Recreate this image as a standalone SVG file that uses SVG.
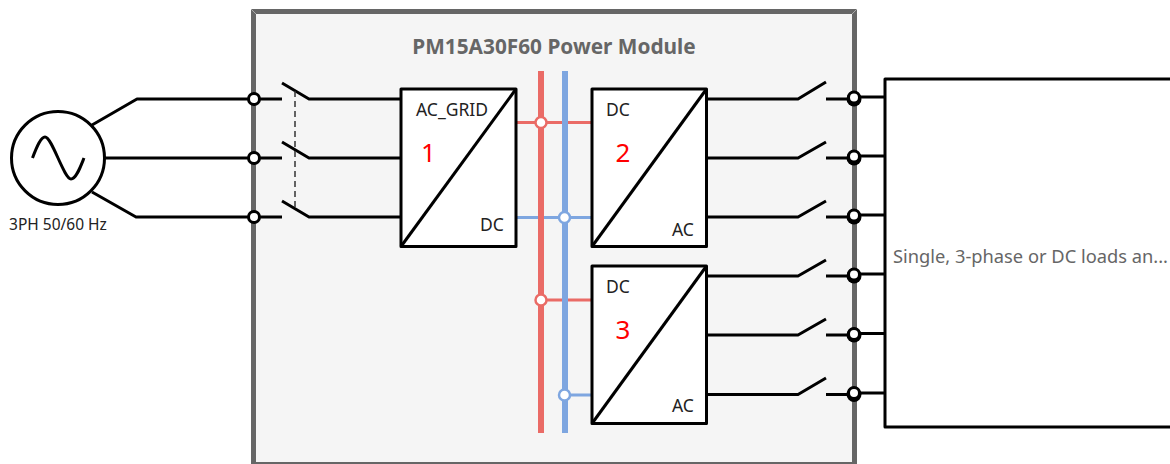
<svg xmlns="http://www.w3.org/2000/svg" width="1170" height="464" viewBox="0 0 1170 464">
<style>
text{font-family:"Noto Sans","Open Sans","DejaVu Sans",sans-serif}
.w{fill:none;stroke:#000;stroke-width:3;stroke-linejoin:round}
.d{font-size:17.500px;fill:#222}
.n{font-size:26px;fill:#f00;text-anchor:middle}
.box{fill:#fff;stroke:#000;stroke-width:3;stroke-linejoin:round}
.red{fill:none;stroke:#ea6b66}
.blue{fill:none;stroke:#7ea6e0}
.t{fill:#fff;stroke:#000;stroke-width:3}
.b{fill:#000}
.cr{fill:#fff;stroke:#ea6b66;stroke-width:2.500}
.cb{fill:#fff;stroke:#7ea6e0;stroke-width:2.500}
</style>
<rect width="1170" height="464" fill="#fff"/>
<g id="module">
<rect x="253.500" y="11.500" width="601" height="453" fill="#f5f5f5" stroke="#666" stroke-width="5"/>
<path d="M251 9L256 14M857 9L852 14" stroke="#aaa" stroke-width="1" fill="none"/>
<text x="554" y="54" text-anchor="middle" font-size="20.800" font-weight="700" fill="#666">PM15A30F60 Power Module</text>
</g>
<g id="connectors">
<path class="w" d="M92 125L137 99H254M105 158H254M92 192L136 217H254"/>
<path class="w" d="M254 99H282M254 158H282M254 217H282"/>
<path class="w" d="M282 83L309 99H401M282 142L309 158H401M282 201L309 217H401"/>
<path d="M295 91V207" fill="none" stroke="#333" stroke-width="1.500" stroke-dasharray="6 4"/>
<path class="w" d="M706 99H798L826 82M706 158H798L826 142M706 217H798L826 201M706 276H798L826 260M706 335H798L826 319M706 394.500H798L826 378"/>
<path class="w" d="M826 99H854M826 158H854M826 217H854M826 276H854M826 335H854M826 394.500H854"/>
<path class="w" d="M854 97H885M854 156H885M854 215H885M854 274H885M854 333.500H885M854 393H885"/>
<path class="blue" stroke-width="3" d="M516 217.500H592M565 395H592"/>
<path class="red" stroke-width="6" d="M541 71V433"/>
<path class="red" stroke-width="3" d="M516 122.500H592M541 300H592"/>
<path class="blue" stroke-width="6" d="M565 71V433"/>
<circle class="cr" cx="541" cy="122.500" r="5.500"/>
<circle class="cb" cx="564.500" cy="217.500" r="5.500"/>
<circle class="cr" cx="541" cy="300" r="5.500"/>
<circle class="cb" cx="564.500" cy="395" r="5.500"/>
</g>
<g id="terminals">
<circle class="t" cx="254" cy="99" r="5.500"/>
<circle class="t" cx="254" cy="158" r="5.500"/>
<circle class="t" cx="254" cy="217" r="5.500"/>
<circle class="b" cx="854" cy="99" r="7.500"/><circle class="t" cx="854" cy="97.500" r="5.500"/>
<circle class="b" cx="854" cy="158" r="7.500"/><circle class="t" cx="854" cy="156.500" r="5.500"/>
<circle class="b" cx="854" cy="217" r="7.500"/><circle class="t" cx="854" cy="215.500" r="5.500"/>
<circle class="b" cx="854" cy="276" r="7.500"/><circle class="t" cx="854" cy="274.500" r="5.500"/>
<circle class="b" cx="854" cy="335" r="7.500"/><circle class="t" cx="854" cy="334" r="5.500"/>
<circle class="b" cx="854" cy="394.500" r="7.500"/><circle class="t" cx="854" cy="393" r="5.500"/>
</g>
<g id="source">
<circle cx="58" cy="158" r="46.500" fill="#fff" stroke="#000" stroke-width="3"/>
<path class="w" d="M32.500 158C37 146 41 137 45 137C52 137 64 179 71 179C76 179 80 168 84 158"/>
<text x="58" y="230" text-anchor="middle" font-size="15.500" fill="#222">3PH 50/60 Hz</text>
</g>
<g id="converter1">
<rect class="box" x="401" y="89" width="115" height="157.500"/>
<path class="w" d="M401 246.500L516 89"/>
<text class="d" x="416" y="116">AC_GRID</text>
<text class="d" x="480" y="231">DC</text>
<text class="n" x="428.500" y="162">1</text>
</g>
<g id="converter2">
<rect class="box" x="592" y="89" width="114.500" height="157.500"/>
<path class="w" d="M592 246.500L706.500 89"/>
<text class="d" x="606" y="116">DC</text>
<text class="d" x="672" y="236">AC</text>
<text class="n" x="623" y="162">2</text>
</g>
<g id="converter3">
<rect class="box" x="592" y="266" width="114.500" height="157.500"/>
<path class="w" d="M592 423.500L706.500 266"/>
<text class="d" x="606" y="293">DC</text>
<text class="d" x="672" y="412">AC</text>
<text class="n" x="623" y="339">3</text>
</g>
<g id="load">
<rect class="box" x="885" y="79" width="290" height="348"/>
<text x="893" y="263" font-size="18.300" fill="#666">Single, 3-phase or DC loads an...</text>
</g>
</svg>
